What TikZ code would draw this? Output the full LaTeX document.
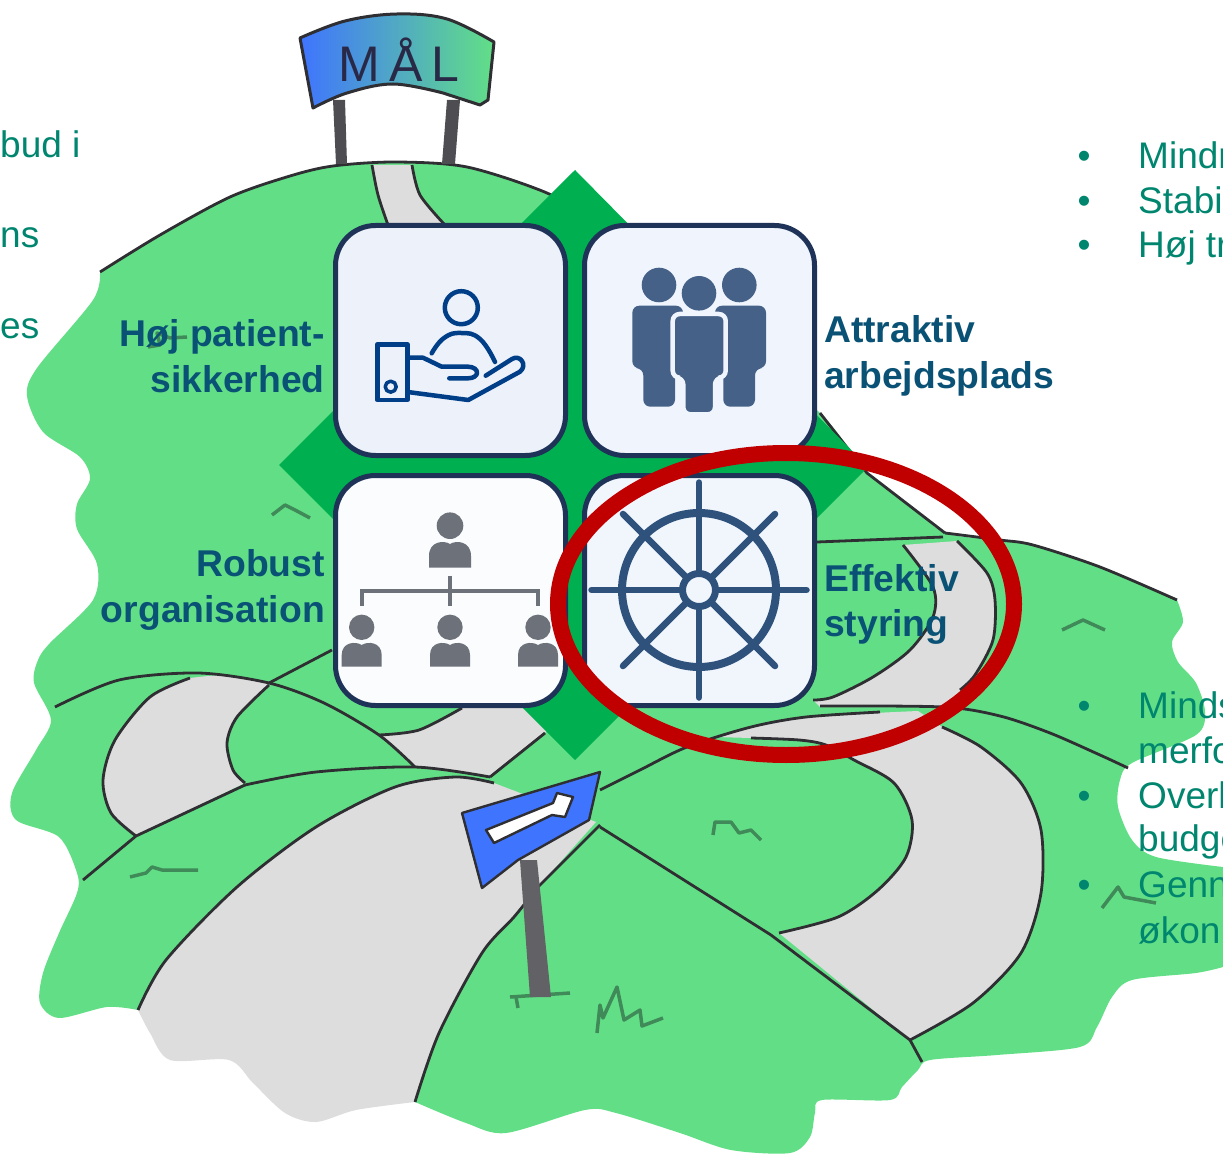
\documentclass[tikz,border=0pt]{standalone}
\usepackage{fontspec}
\setmainfont{Liberation Sans}
\definecolor{hill}{HTML}{62DF86}
\definecolor{roadgray}{HTML}{DDDDDD}
\definecolor{ink}{HTML}{2E2E33}
\definecolor{grassink}{HTML}{3F8A58}
\definecolor{diamondgreen}{HTML}{00B050}
\definecolor{boxedge}{HTML}{1F3358}
\definecolor{labelblue}{HTML}{0A5275}
\definecolor{teal}{HTML}{00856F}
\definecolor{handblue}{HTML}{003F87}
\definecolor{teamblue}{HTML}{456188}
\definecolor{orggray}{HTML}{6D7179}
\definecolor{helmblue}{HTML}{2F527D}
\definecolor{signblue}{HTML}{3F74FF}
\definecolor{redring}{HTML}{C00000}
\tikzset{
  inkline/.style={draw=ink,line width=2.8pt,line join=round},
  grassmark/.style={draw=grassink,line width=3.5pt,line join=round},
  tile/.style={draw=boxedge,line width=5pt,rounded corners=40pt},
  bodytext/.style={text=teal,anchor=base west,inner sep=0pt,font=\fontsize{37}{45}\selectfont},
  bullet/.style={text=teal,anchor=base,inner sep=0pt,font=\fontsize{37}{45}\selectfont},
  rlabel/.style={text=labelblue,align=right,anchor=east,inner sep=0pt,font=\fontsize{37.3}{45.5}\selectfont\bfseries},
  llabel/.style={text=labelblue,align=left,anchor=west,inner sep=0pt,font=\fontsize{37.3}{45.5}\selectfont\bfseries},
}
\begin{document}
\begin{tikzpicture}[x=1pt,y=-1pt]
\useasboundingbox (0,0) rectangle (1223,1155);
\clip (0,0) rectangle (1223,1155);

% hill
\fill[hill] plot[smooth,tension=.5] coordinates {(100,272)(160,235)(230,197)(290,176)(333,166)(395,162)(467,167)(547,193)(620,240)(700,310)(820,413)(867,473)(910,505)(945,533)(1000,540)(1033,545)(1100,567)(1177,600)}
 -- plot[smooth,tension=.5] coordinates {(1177,600)(1183,622)(1172,642)(1178,662)(1196,683)(1205,712)(1196,735)(1132,763)(1120,780)(1118,807)(1132,840)(1156,857)(1223,867)}
 -- (1223,967)
 -- plot[smooth,tension=.5] coordinates {(1223,967)(1196,973)(1132,980)(1112,997)(1097,1027)(1080,1047)(997,1055)(930,1060)(918,1070)(902,1087)(890,1100)(822,1100)(815,1113)(810,1137)(790,1153)(731,1150)(680,1133)(616,1113)(585,1110)(506,1133)(466,1123)(415,1102)}
 -- (138,1010)
 -- plot[smooth,tension=.5] coordinates {(138,1010)(107,1007)(59,1018)(40,1003)(43,973)(59,933)(77,893)(77,873)(59,837)(16,820)(12,793)(36,750)(51,720)(34,683)(38,660)(50,643)(93,600)(97,564)(77,529)(77,504)(90,479)(80,457)(43,432)(27,396)(37,368)(93,300)(100,272)}
 -- cycle;
\draw[inkline] plot[smooth,tension=.5] coordinates {(100,272)(160,235)(230,197)(290,176)(333,166)(395,162)(467,167)(547,193)(590,220)};
\draw[inkline] (820,413) -- (867,473) -- (945,533);
\draw[inkline] plot[smooth,tension=.5] coordinates {(945,533)(1000,540)(1033,545)(1100,567)(1177,600)};

% roads: fills
\fill[roadgray] plot[smooth,tension=.5] coordinates {(372,165)(378,195)(388,225)} -- plot[smooth,tension=.5] coordinates {(445,225)(420,195)(412,165)} -- cycle;
\fill[roadgray] plot[smooth,tension=.5] coordinates {(903,545)(933,587)(933,617)(910,650)(873,677)(833,697)(813,700)} -- (820,707) -- (943,707) -- plot[smooth,tension=.5] coordinates {(943,707)(975,675)(993,640)(995,600)(987,573)(957,541)} -- cycle;
\fill[roadgray] (715,737) -- plot[smooth,tension=.5] coordinates {(751,727)(806,717)(918,711)} -- plot[smooth,tension=.5] coordinates {(942,727)(981,747)(1021,783)(1041,830)(1041,893)(1021,953)(973,1003)(910,1040)} -- (779,933) -- plot[smooth,tension=.5] coordinates {(779,933)(838,917)(878,890)(906,857)(912,820)(894,783)(854,760)(826,745)(799,740)(751,738)} -- cycle;
\fill[roadgray] plot[smooth,tension=.5] coordinates {(190,678)(150,697)(115,740)(103,780)(111,813)(136,836)} -- plot[smooth,tension=.5] coordinates {(245,783)(233,770)(227,743)(237,717)(269,685)} -- plot[smooth,tension=.5] coordinates {(269,683)(230,675)(190,678)} -- cycle;
\fill[roadgray] (379,735) -- (419,730) -- (462,708) -- (560,708) -- (545,733) -- (490,777) -- (415,767) -- cycle;
\fill[roadgray] plot[smooth,tension=.5] coordinates {(138,1010)(166,960)(237,887)(316,827)(395,787)(455,777)(494,783)} -- (596,822) -- (538,887) -- plot[smooth,tension=.5] coordinates {(538,887)(514,917)(482,953)(439,1033)(415,1102)} -- plot[smooth,tension=.5] coordinates {(415,1102)(356,1110)(316,1122)(285,1113)(253,1083)(229,1060)(170,1060)(150,1033)(138,1010)} -- cycle;

% roads: lines
\draw[inkline] plot[smooth,tension=.5] coordinates {(372,165)(378,195)(388,225)};
\draw[inkline] plot[smooth,tension=.5] coordinates {(412,165)(420,195)(445,225)};
\draw[inkline] (817,542) -- (943,537);
\draw[inkline] plot[smooth,tension=.5] coordinates {(903,545)(933,587)(933,617)(910,650)(873,677)(833,697)(813,700)};
\draw[inkline] plot[smooth,tension=.5] coordinates {(957,541)(987,573)(995,600)(993,640)(975,675)(960,690)};
\draw[inkline] plot[smooth,tension=.5] coordinates {(820,706)(943,707)(1000,716)(1050,733)(1100,755)(1128,768)};
\draw[inkline] plot[smooth,tension=.5] coordinates {(600,790)(640,770)(687,747)(751,727)(806,717)(880,712)};
\draw[inkline] plot[smooth,tension=.5] coordinates {(751,738)(799,740)(826,745)(854,760)(894,783)(912,820)(906,857)(878,890)(838,917)(779,933)};
\draw[inkline] plot[smooth,tension=.5] coordinates {(942,727)(981,747)(1021,783)(1041,830)(1041,893)(1021,953)(973,1003)(910,1040)};
\draw[inkline] (600,827) -- (771,935) -- (910,1040) -- (922,1062);
\draw[inkline] plot[smooth,tension=.5] coordinates {(55,707)(119,680)(198,673)(269,683)(324,703)(379,735)(415,767)};
\draw[inkline] (269,683) -- (332,650);
\draw[inkline] plot[smooth,tension=.5] coordinates {(190,678)(150,697)(115,740)(103,780)(111,813)(136,836)};
\draw[inkline] plot[smooth,tension=.5] coordinates {(269,685)(237,717)(227,743)(233,770)(245,783)};
\draw[inkline] (83,880) -- (136,836) -- (245,785);
\draw[inkline] plot[smooth,tension=.5] coordinates {(245,785)(316,772)(415,767)(490,777)};
\draw[inkline] plot[smooth,tension=.5] coordinates {(379,735)(419,730)(462,708)};
\draw[inkline] (545,733) -- (490,777);
\draw[inkline] plot[smooth,tension=.5] coordinates {(138,1010)(166,960)(237,887)(316,827)(395,787)(455,777)(494,783)};
\draw[inkline] (600,825) -- (538,887);
\draw[inkline] plot[smooth,tension=.5] coordinates {(538,887)(514,917)(482,953)(439,1033)(415,1102)};

% grass
\draw[grassmark] (130,877) -- (146,873) -- (152,867) -- (162,870) -- (198,870);
\draw[grassmark] (510,997) -- (570,993);
\draw[grassmark] (518,1008) -- (516,997);
\draw[grassmark] (597,1033) -- (600,1005) -- (603,1018) -- (617,987) -- (624,1020) -- (640,1010) -- (642,1026) -- (663,1018);
\draw[grassmark] (713,835) -- (715,822) -- (731,822) -- (739,833) -- (751,830) -- (761,840);
\draw[grassmark] (1062,630) -- (1083,620) -- (1105,630);
\draw[grassmark] (1102,908) -- (1118,887) -- (1124,897) -- (1156,903);
\draw[grassmark] (272,515) -- (285,505) -- (295,510) -- (310,518);
\draw[grassmark] (148,347) -- (160,345) -- (157,333) -- (170,338) -- (187,337);

% goal sign
\fill[ink!85!white] (333,100) -- (345,100) -- (347,164) -- (336,164) -- cycle;
\fill[ink!85!white] (447,100) -- (460,100) -- (455,164) -- (442,164) -- cycle;
\shade[left color=signblue,right color=hill,draw=ink,line width=3pt,line join=round]
 plot[smooth,tension=.6] coordinates {(300,38)(345,21)(397,14)(447,19)(494,42)}
 -- (488,100) -- (480,105)
 -- plot[smooth,tension=.6] coordinates {(443,93)(393,84)(347,93)(313,108)}
 -- cycle;
\node[text=ink!90!blue,inner sep=0pt,anchor=base,font=\fontsize{50}{50}\selectfont] (goaltext) at (399,82) {M\kern9pt Å\kern9pt L};

% route sign
\fill[ink!75!white] (520,860) -- (537,860) -- (551,997) -- (530,997) -- cycle;
\fill[signblue,draw=ink,line width=2.4pt,line join=round] (462,813) -- (600,772) -- (589,820) -- (518,860) -- (482,888) -- cycle;
\fill[white,draw=ink,line width=2.4pt,line join=round] (486,830) -- (553,803) -- (557,793) -- (573,797) -- (565,817) -- (552,815) -- (494,843) -- cycle;

% diamond
\fill[diamondgreen] (575,170) -- (868,467) -- (575,760) -- (279,465) -- cycle;

% tiles
\path[tile,fill={rgb,255:red,236;green,241;blue,250}] (335.5,225.5) rectangle (565.5,455.5);
\path[tile,fill={rgb,255:red,240;green,245;blue,253}] (584.5,225.5) rectangle (814.5,455.5);
\path[tile,fill={rgb,255:red,251;green,252;blue,254}] (335.5,475.5) rectangle (565.5,705.5);
\path[tile,fill={rgb,255:red,241;green,246;blue,253}] (584.5,475.5) rectangle (814.5,705.5);

% hand icon
\begin{scope}[draw=handblue,line width=4.5pt,line cap=round,line join=round]
\draw (461.3,307.7) circle (16.5);
\draw plot[smooth,tension=.8] coordinates {(431.7,353.3)(444,338)(461,333)(480,339)(495,362)};
\draw (377.3,344.3) rectangle (407.3,400);
\draw[line width=3.5pt] (390.7,386.7) circle (5.5);
\draw (410,357.7) -- (423,357.7) -- (441.7,366.7) -- (468,366.7) .. controls (480,367) and (480,378.3) .. (468,378.3) -- (449.3,378.3);
\draw (410,392.3) -- (468.3,400) -- (520,371.7) .. controls (528,365) and (520,354) .. (512,359) -- (485.7,375.7);
\end{scope}

% team icon
\fill[teamblue] (659,285) circle (17.3) (739.3,285) circle (17.3) (699,293.3) circle (17.3);
\fill[teamblue,rounded corners=7pt] (632.3,305.7) -- (683,305.7) -- (683,368.3) -- (675,368.3) -- (675,406.7) -- (643.3,406.7) -- (643.3,368.3) -- (632.3,368.3) -- cycle;
\fill[teamblue,rounded corners=7pt] (715,305.7) -- (766,305.7) -- (766,368.3) -- (755,368.3) -- (755,406.7) -- (723.3,406.7) -- (723.3,368.3) -- (715,368.3) -- cycle;
\draw[draw={rgb,255:red,240;green,245;blue,253},line width=4.5pt,fill=teamblue,rounded corners=7pt] (672.7,314) -- (725.7,314) -- (725.7,377.7) -- (715,377.7) -- (715,414.3) -- (683.3,414.3) -- (683.3,377.7) -- (672.7,377.7) -- cycle;

% organisation icon
\fill[orggray] (450,525.7) circle (13.3);
\fill[orggray] (429,567.7) -- (429,556) .. controls (429,541) and (444,540) .. (450,544) .. controls (456,540) and (471,541) .. (471,556) -- (471,567.7) -- cycle;
\foreach \cx in {361.7,450,538}{
  \fill[orggray] (\cx,627.3) circle (12.7);
  \fill[orggray] ({\cx-20},666.7) -- ({\cx-20},655) .. controls ({\cx-20},642) and ({\cx-6},641) .. (\cx,645) .. controls ({\cx+6},641) and ({\cx+20},642) .. ({\cx+20},655) -- ({\cx+20},666.7) -- cycle;
}
\draw[orggray,line width=4pt] (450,575.7) -- (450,605.7);
\draw[orggray,line width=4pt] (362,605.7) -- (362,590.7) -- (538,590.7) -- (538,605.7);

% helm icon
\begin{scope}[draw=helmblue,line cap=round]
\draw[line width=8pt] (699,590) circle (77);
\foreach \a in {0,45,...,315}{
  \draw[line width=6.5pt] (699,590) -- ++(\a:107.5);
}
\draw[line width=7pt,fill={rgb,255:red,241;green,246;blue,253}] (699,590) circle (16.5);
\end{scope}

% tile labels
\node[rlabel] (lblsafety) at (325,356) {Høj patient-\\sikkerhed};
\node[llabel] (lblwork) at (824,356) {Attraktiv\\arbejdsplads};
\node[rlabel] (lblrobust) at (325,590) {Robust\\organisation};
\node[llabel] (lblsteer) at (824,604.5) {Effektiv\\styring};

% side texts
\node[bodytext] (l1) at (0,158) {bud i};
\node[bodytext] (l2) at (0,248) {ns};
\node[bodytext] (l3) at (0,338) {es};
\foreach \nm/\ty/\tx in {a/169/Mindr,b/214/Stabi,c/258/Høj tr,d/718/Minds,e/763/merfo,f/808/Overl,g/851/budge,h/897/Genn,i/943/økon}{
  \node[bodytext] (r\nm) at (1138,\ty) {\tx};
}
\foreach \nm/\ty in {a/169,b/214,c/258,d/718,f/808,h/897}{
  \node[bullet] (b\nm) at (1084,\ty) {•};
}

% red ring
\draw[redring,line width=16pt] (786,604) ellipse [x radius=228,y radius=151];
\end{tikzpicture}
\end{document}
